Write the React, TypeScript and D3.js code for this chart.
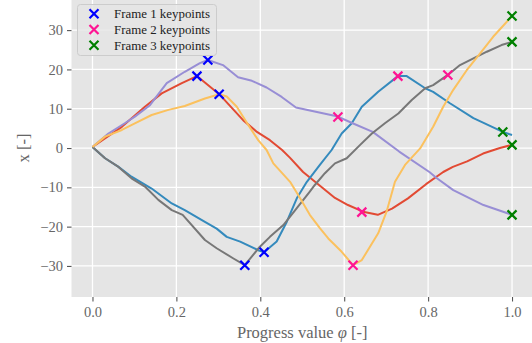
import React, { useRef, useEffect } from 'react';
import { select, scaleLinear, axisBottom, axisLeft, line } from 'd3';

// progress value / x pairs
const redLine = [
  [0, 0.25], [0.07, 5.4], [0.125, 10.5], [0.165, 13.9], [0.213, 16.5], [0.249, 18.3],
  [0.302, 13.7], [0.359, 7.1], [0.392, 4.1], [0.423, 2.0], [0.452, -0.5], [0.471, -2.5],
  [0.502, -6.1], [0.54, -9.4], [0.578, -12.7], [0.609, -14.5], [0.645, -16.2], [0.68, -17.0],
  [0.714, -15.4], [0.752, -12.8], [0.795, -9.2], [0.836, -6.1], [0.859, -4.8], [0.893, -3.4],
  [0.931, -1.4], [0.971, 0], [1.0, 0.8],
];
const blueLine = [
  [0, 0.25], [0.03, -2.6], [0.062, -4.8], [0.093, -7.3], [0.141, -10.3], [0.189, -14.1],
  [0.22, -15.8], [0.268, -18.8], [0.296, -20.5], [0.32, -22.6], [0.352, -23.8], [0.395, -26.0],
  [0.409, -26.5], [0.439, -23.8], [0.463, -18.8], [0.487, -12.8], [0.511, -8.6], [0.542, -4.3],
  [0.57, -0.5], [0.594, 3.7], [0.618, 6.3], [0.642, 10.5], [0.681, 14.3], [0.728, 18.3],
  [0.749, 18.3], [0.793, 15.2], [0.812, 14.3], [0.852, 11.4], [0.908, 7.6], [0.978, 4.1],
  [1.0, 3.3],
];
const purpleLine = [
  [0, 0.25], [0.038, 3.7], [0.077, 6.3], [0.101, 8.0], [0.137, 10.9], [0.177, 16.5],
  [0.22, 19.4], [0.256, 21.6], [0.275, 22.4], [0.311, 21.1], [0.347, 18.0], [0.38, 17.1],
  [0.415, 15.4], [0.451, 13.0], [0.485, 10.3], [0.585, 8.0], [0.62, 6.3], [0.668, 4.1],
  [0.731, -0.9], [0.803, -6.1], [0.821, -7.7], [0.86, -10.7], [0.932, -14.5], [1.0, -17.0],
];
const grayLine = [
  [0, 0.25], [0.03, -2.6], [0.062, -4.8], [0.093, -7.7], [0.125, -9.8], [0.157, -13.2],
  [0.189, -15.8], [0.215, -17.0], [0.268, -23.4], [0.296, -25.5], [0.336, -28.1], [0.363, -29.8],
  [0.399, -25.1], [0.423, -22.6], [0.455, -19.6], [0.487, -15.3], [0.518, -11.1], [0.53, -9.4],
  [0.554, -6.4], [0.578, -3.9], [0.606, -2.6], [0.638, 0.8], [0.666, 3.7], [0.697, 6.3],
  [0.729, 8.8], [0.761, 12.2], [0.793, 15.2], [0.812, 16.0], [0.847, 18.6], [0.876, 21.1],
  [0.908, 22.8], [0.94, 24.5], [0.975, 26.2], [1.0, 27.0],
];
const yellowLine = [
  [0, 0.25], [0.03, 2.9], [0.07, 4.6], [0.101, 6.3], [0.141, 8.4], [0.181, 9.7],
  [0.22, 10.7], [0.268, 12.6], [0.302, 13.7], [0.32, 13.1], [0.344, 10.5], [0.371, 5.9],
  [0.395, 2.0], [0.415, -0.5], [0.431, -3.9], [0.471, -8.6], [0.495, -12.8], [0.518, -17.0],
  [0.542, -20.4], [0.562, -23.0], [0.594, -26.4], [0.621, -29.8], [0.642, -28.5], [0.681, -21.7],
  [0.701, -16.2], [0.721, -8.6], [0.745, -4.3], [0.781, -0.1], [0.812, 5.4], [0.836, 10.5],
  [0.86, 14.8], [0.892, 19.8], [0.924, 24.1], [0.955, 28.3], [1.0, 33.6],
];

const frame1 = [[0.249, 18.3], [0.275, 22.4], [0.302, 13.7], [0.363, -29.8], [0.409, -26.5]];
const frame2 = [[0.585, 7.9], [0.642, -16.3], [0.621, -29.8], [0.728, 18.3], [0.847, 18.6]];
const frame3 = [[1.0, 33.6], [1.0, 27.0], [0.978, 4.1], [1.0, 0.8], [1.0, -17.0]];

const xTicks = [0, 0.2, 0.4, 0.6, 0.8, 1.0];
const yTicks = [-30, -20, -10, 0, 10, 20, 30];

const W = 532;
const H = 343;
const serif = '"Liberation Serif", "DejaVu Serif", serif';

const App = () => {
  const svgRef = useRef(null);

  useEffect(() => {
    const svg = select(svgRef.current);
    svg.selectAll('*').remove();

    const left = 71.5, right = 533, top = 0, bottom = 297;
    const x = scaleLinear().domain([-0.05, 1.05]).range([left, right]);
    const y = scaleLinear().domain([-37.9, 37.66]).range([bottom, top]);

    svg.append('rect')
      .attr('x', left).attr('y', top)
      .attr('width', right - left).attr('height', bottom - top)
      .attr('fill', '#E5E5E5');

    // grid
    const grid = svg.append('g');
    grid.selectAll('.gx').data(xTicks).join('line')
      .attr('x1', (d) => x(d)).attr('x2', (d) => x(d))
      .attr('y1', top).attr('y2', bottom)
      .attr('stroke', '#fff').attr('stroke-width', 1.3);
    grid.selectAll('.gy').data(yTicks).join('line')
      .attr('y1', (d) => y(d)).attr('y2', (d) => y(d))
      .attr('x1', left).attr('x2', right)
      .attr('stroke', '#fff').attr('stroke-width', 1.3);

    const fmtY = (d) => (d < 0 ? '\u2212' + Math.abs(d) : String(d));

    const xAxis = svg.append('g')
      .attr('transform', `translate(0,${bottom})`)
      .call(axisBottom(x).tickValues(xTicks).tickFormat((d) => d.toFixed(1)).tickSize(4.5).tickPadding(5));
    const yAxis = svg.append('g')
      .attr('transform', `translate(${left},0)`)
      .call(axisLeft(y).tickValues(yTicks).tickFormat(fmtY).tickSize(4.5).tickPadding(4));
    [xAxis, yAxis].forEach((a) => {
      a.select('.domain').remove();
      a.selectAll('.tick line').attr('stroke', '#555').attr('stroke-width', 1.1);
      a.selectAll('.tick text')
        .attr('fill', '#666')
        .style('font-family', serif)
        .style('font-size', '14.5px');
    });

    const path = line().x((d) => x(d[0])).y((d) => y(d[1]));
    const series = [
      [redLine, '#E24A33'],
      [blueLine, '#348ABD'],
      [purpleLine, '#988ED5'],
      [grayLine, '#777777'],
      [yellowLine, '#FBC15E'],
    ];
    series.forEach(([data, color]) => {
      svg.append('path')
        .attr('d', path(data))
        .attr('fill', 'none')
        .attr('stroke', color)
        .attr('stroke-width', 2)
        .attr('stroke-linejoin', 'round');
    });

    const r = 4.5;
    const cross = (g, cx, cy, color) => {
      g.append('path')
        .attr('d', `M${cx - r},${cy - r}L${cx + r},${cy + r}M${cx - r},${cy + r}L${cx + r},${cy - r}`)
        .attr('stroke', color)
        .attr('stroke-width', 2.2);
    };
    const frames = [
      [frame1, '#0000FF', 'Frame 1 keypoints'],
      [frame2, '#FF1493', 'Frame 2 keypoints'],
      [frame3, '#008000', 'Frame 3 keypoints'],
    ];
    const marks = svg.append('g');
    frames.forEach(([pts, color]) => {
      pts.forEach((p) => cross(marks, x(p[0]), y(p[1]), color));
    });

    // legend
    const lg = svg.append('g');
    lg.append('rect')
      .attr('x', 77.5).attr('y', 4.5).attr('width', 139).attr('height', 51)
      .attr('rx', 3)
      .attr('fill', '#E5E5E5').attr('fill-opacity', 0.8)
      .attr('stroke', '#CCCCCC').attr('stroke-width', 1);
    frames.forEach(([, color, label], i) => {
      const cy = 13.7 + i * 15.8;
      cross(lg, 94, cy, color);
      lg.append('text')
        .attr('x', 114).attr('y', cy + 4.3)
        .attr('fill', '#222')
        .style('font-family', serif)
        .style('font-size', '12.9px')
        .text(label);
    });

    const xl = svg.append('text')
      .attr('x', (left + right) / 2).attr('y', 337.5)
      .attr('text-anchor', 'middle')
      .attr('fill', '#666')
      .style('font-family', serif)
      .style('font-size', '16.5px');
    xl.append('tspan').text('Progress value ');
    xl.append('tspan').style('font-style', 'italic').text('\u03C6');
    xl.append('tspan').text(' [-]');

    svg.append('text')
      .attr('transform', 'translate(29,148) rotate(-90)')
      .attr('text-anchor', 'middle')
      .attr('fill', '#666')
      .style('font-family', serif)
      .style('font-size', '16.5px')
      .text('x [-]');
  }, []);

  return (
    <div style={{ position: 'absolute', left: 0, top: 0 }}>
      <svg ref={svgRef} width={W} height={H} style={{ display: 'block', background: '#fff' }} />
    </div>
  );
};

export default App;
